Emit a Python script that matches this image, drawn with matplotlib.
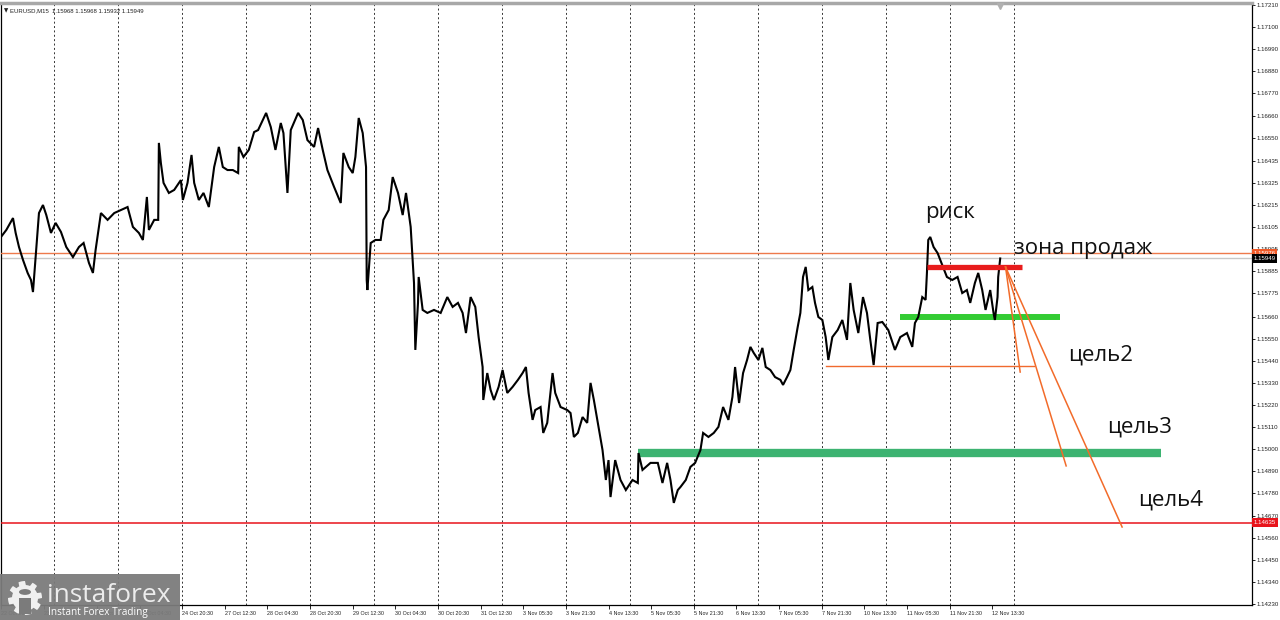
import matplotlib
matplotlib.use('Agg')
import numpy as np
import matplotlib.pyplot as plt
from matplotlib.patches import Rectangle, Polygon, Circle

# ---------------- data (EURUSD M15, bar index, price) ----------------
bars = [0, 8, 18, 22, 27, 33, 40, 45, 48, 52, 57, 63, 68, 75, 82, 90, 98, 108, 117, 124,
        132, 138, 142, 150, 160, 170, 180, 190, 198, 207, 213, 219, 222, 230, 236, 237, 240, 244, 252, 260,
        270, 273, 280, 286, 290, 297, 304, 312, 320, 327, 333, 340, 348, 356, 357, 364, 372, 380, 386, 393,
        398, 405, 412, 420, 424, 430, 435, 446, 453, 460, 470, 476, 483, 490, 500, 510, 514, 522, 528, 532,
        537, 543, 548, 549, 550, 555, 562, 570, 574, 582, 588, 596, 603, 608, 615, 620, 622, 626, 627, 633,
        640, 650, 660, 670, 678, 686, 693, 698, 705, 712, 717, 723, 724, 730, 735, 740, 747, 753, 760, 768,
        776, 783, 788, 792, 798, 802, 810, 814, 820, 828, 832, 840, 850, 855, 860, 866, 873, 880, 885, 890,
        896, 903, 908, 912, 915, 922, 930, 938, 948, 956, 957, 963, 975, 986, 993, 1000, 1005, 1010, 1016, 1020,
        1028, 1035, 1042, 1050, 1054, 1062, 1070, 1077, 1084, 1092, 1098, 1102, 1108, 1114, 1120, 1125, 1130, 1137, 1143, 1148,
        1155, 1162, 1170, 1174, 1180, 1185, 1190, 1196, 1200, 1204, 1208, 1212, 1218, 1222, 1227, 1233, 1238, 1242, 1248, 1256,
        1263, 1270, 1275, 1280, 1287, 1294, 1300, 1305, 1310, 1316, 1323, 1332, 1342, 1350, 1360, 1368, 1372, 1377, 1383, 1388,
        1390, 1392, 1395, 1400, 1406, 1410, 1414, 1420, 1428, 1436, 1443, 1450, 1455, 1462, 1467, 1473, 1478, 1485, 1490, 1492,
        1496, 1497, 1500]
close = [1.16056, 1.16091, 1.16150, 1.16076, 1.16006, 1.15942, 1.15877, 1.15842, 1.15782, 1.15956,
         1.16175, 1.16215, 1.16165, 1.16076, 1.16126, 1.16081, 1.16006, 1.15956, 1.16006, 1.16026,
         1.15927, 1.15877, 1.15991, 1.16175, 1.16141, 1.16175, 1.16190, 1.16205, 1.16106, 1.16076,
         1.16041, 1.16255, 1.16091, 1.16141, 1.16141, 1.16524, 1.16424, 1.16325, 1.16275, 1.16290,
         1.16339, 1.16240, 1.16325, 1.16464, 1.16325, 1.16240, 1.16275, 1.16205, 1.16404, 1.16504,
         1.16404, 1.16389, 1.16389, 1.16374, 1.16504, 1.16454, 1.16489, 1.16578, 1.16588, 1.16638,
         1.16673, 1.16603, 1.16489, 1.16623, 1.16573, 1.16275, 1.16588, 1.16673, 1.16638, 1.16538,
         1.16504, 1.16598, 1.16489, 1.16389, 1.16305, 1.16225, 1.16474, 1.16404, 1.16374, 1.16454,
         1.16648, 1.16573, 1.16404, 1.15842, 1.15792, 1.16026, 1.16041, 1.16041, 1.16141, 1.16190,
         1.16354, 1.16275, 1.16165, 1.16275, 1.16106, 1.15827, 1.15494, 1.15728, 1.15857, 1.15693,
         1.15678, 1.15693, 1.15678, 1.15757, 1.15708, 1.15728, 1.15678, 1.15578, 1.15757, 1.15708,
         1.15558, 1.15409, 1.15245, 1.15379, 1.15295, 1.15245, 1.15310, 1.15394, 1.15280, 1.15310,
         1.15345, 1.15379, 1.15409, 1.15280, 1.15146, 1.15195, 1.15210, 1.15081, 1.15131, 1.15379,
         1.15280, 1.15210, 1.15195, 1.15180, 1.15061, 1.15081, 1.15160, 1.15131, 1.15330, 1.15245,
         1.15131, 1.14996, 1.14847, 1.14946, 1.14762, 1.14946, 1.14847, 1.14797, 1.14847, 1.14832,
         1.14981, 1.14897, 1.14932, 1.14932, 1.14832, 1.14932, 1.14847, 1.14733, 1.14797, 1.14812,
         1.14847, 1.14912, 1.14932, 1.14996, 1.15081, 1.15061, 1.15081, 1.15111, 1.15210, 1.15146,
         1.15260, 1.15409, 1.15230, 1.15379, 1.15444, 1.15509, 1.15479, 1.15444, 1.15504, 1.15409,
         1.15394, 1.15359, 1.15345, 1.15320, 1.15359, 1.15394, 1.15494, 1.15608, 1.15678, 1.15857,
         1.15907, 1.15792, 1.15807, 1.15728, 1.15658, 1.15643, 1.15558, 1.15444, 1.15558, 1.15593,
         1.15643, 1.15544, 1.15827, 1.15693, 1.15578, 1.15757, 1.15678, 1.15544, 1.15419, 1.15628,
         1.15633, 1.15593, 1.15494, 1.15558, 1.15578, 1.15509, 1.15628, 1.15658, 1.15757, 1.15743,
         1.15877, 1.16041, 1.16056, 1.16006, 1.15976, 1.15942, 1.15907, 1.15857, 1.15842, 1.15857,
         1.15777, 1.15792, 1.15728, 1.15827, 1.15877, 1.15792, 1.15693, 1.15792, 1.15678, 1.15643,
         1.15757, 1.15857, 1.15949]

ytick_vals = [1.17210, 1.17100, 1.16990, 1.16880, 1.16770, 1.16660, 1.16550, 1.16435, 1.16325,
              1.16215, 1.16105, 1.15995, 1.15885, 1.15775, 1.15660, 1.15550, 1.15440, 1.15330,
              1.15220, 1.15110, 1.15000, 1.14890, 1.14780, 1.14670, 1.14560, 1.14450, 1.14340, 1.14230]
xtick_bars = [0, 64, 144, 208, 272, 336, 400, 464, 528, 592, 656, 720, 784, 848, 912, 976,
              1040, 1104, 1168, 1232, 1296, 1360, 1424, 1488]
xtick_labels = ['22 Oct 2025', '23 Oct 04:30', '23 Oct 12:30', '24 Oct 04:30', '24 Oct 20:30',
                '27 Oct 12:30', '28 Oct 04:30', '28 Oct 20:30', '29 Oct 12:30', '30 Oct 04:30',
                '30 Oct 20:30', '31 Oct 12:30', '3 Nov 05:30', '3 Nov 21:30', '4 Nov 13:30',
                '5 Nov 05:30', '5 Nov 21:30', '6 Nov 13:30', '7 Nov 05:30', '7 Nov 21:30',
                '10 Nov 13:30', '11 Nov 05:30', '11 Nov 21:30', '12 Nov 13:30']
grid_bars = [80, 176, 272, 368, 464, 560, 656, 752, 848, 944, 1040, 1136, 1232, 1328, 1424, 1520]

bid_price = 1.15949
ask_line_price = 1.15976
support_price = 1.14635
ohlc_header = 'EURUSD,M15  1.15968 1.15968 1.15932 1.15949'

# analysis levels: (start bar, end bar, price)
sell_zone = (1390, 1532, 1.15907)
target1 = (1350, 1590, 1.15658)
target2 = (1239, 1551, 1.15414)
target3 = (956, 1742, 1.14981)
fan_origin = (1508, 1.15907)
fan_ends = [(1530, 1.15384), (1599, 1.14917), (1683, 1.14613)]

labels_text = ['риск', 'зона продаж', 'цель2', 'цель3', 'цель4']

# ---------------- figure ----------------
W, H = 1280, 620
fig = plt.figure(figsize=(W / 100, H / 100), dpi=100)
ax = fig.add_axes([1 / W, 15 / H, 1251 / W, 602 / H])
ax.set_xlim(0, 1878)
ax.set_ylim(1.14225, 1.17220)

small = ['Liberation Sans', 'DejaVu Sans']

# grid (vertical dotted)
for g in grid_bars:
    ax.axvline(g, color='#333333', lw=0.7, ls=(0, (2, 2.5)), zorder=1)

# price series
ax.plot(bars, close, color='black', lw=1.5, zorder=4, solid_joinstyle='miter')

# horizontal full-width lines
ax.axhline(ask_line_price, color='#ee7a4c', lw=1.0, zorder=3)
ax.axhline(bid_price, color='#c8c8c8', lw=1.0, zorder=2)
ax.axhline(support_price, color='#e8141b', lw=1.1, zorder=3)

# analysis drawings
ax.plot([target3[0], target3[1]], [target3[2], target3[2]], color='#3cb371', lw=6.0,
        solid_capstyle='butt', zorder=3)
ax.plot([target2[0], target2[1]], [target2[2], target2[2]], color='#f06a2e', lw=1.0, zorder=3)
ax.plot([target1[0], target1[1]], [target1[2], target1[2]], color='#33cc33', lw=4.3,
        solid_capstyle='butt', zorder=3)
ax.plot([sell_zone[0], sell_zone[1]], [sell_zone[2], sell_zone[2]], color='#e81c1c', lw=3.8,
        solid_capstyle='butt', zorder=5)
for (xe, ye) in fan_ends:
    ax.plot([fan_origin[0], xe], [fan_origin[1], ye], color='#f26b2a', lw=1.1, zorder=5)

tfont = ['Open Sans', 'DejaVu Sans']
ax.text(1425, 1.16180, labels_text[0], fontsize=16, family=tfont, ha='center', va='center', color='#111111')
ax.text(1521, 1.16001, labels_text[1], fontsize=16, family=tfont, ha='left', va='center', color='#111111')
ax.text(1602, 1.15469, labels_text[2], fontsize=16, family=tfont, ha='left', va='center', color='#111111')
ax.text(1660, 1.15111, labels_text[3], fontsize=16, family=tfont, ha='left', va='center', color='#111111')
ax.text(1707, 1.14748, labels_text[4], fontsize=16, family=tfont, ha='left', va='center', color='#111111')

# header
ax.text(0.002, 0.991, '\u25BC', transform=ax.transAxes, fontsize=4.0,
        family=['DejaVu Sans'], ha='left', va='top', color='#222222', zorder=6)
ax.text(0.0075, 0.992, ohlc_header, transform=ax.transAxes, fontsize=4.3,
        family=small, ha='left', va='top', color='#222222', zorder=6)
# shift marker
ax.plot([1500], [1.17205], marker='v', color='#b0b0b0', ms=5, zorder=6)

# axes styling
for s in ['left', 'bottom', 'right']:
    ax.spines[s].set_color('#000000')
    ax.spines[s].set_linewidth(0.9)
ax.spines['top'].set_color('#a8a8a8')
ax.spines['top'].set_linewidth(2.5)
ax.yaxis.tick_right()
ax.set_yticks(ytick_vals)
ax.set_yticklabels(['%.5f' % v for v in ytick_vals])
ax.tick_params(axis='y', which='both', direction='out', length=2, width=0.6, pad=1.2,
               labelsize=4.4, colors='#000000', labelcolor='#222222')
for lab in ax.get_yticklabels():
    lab.set_family(small)
ax.set_xticks(xtick_bars)
ax.set_xticklabels(xtick_labels)
for lab in ax.get_xticklabels():
    lab.set_horizontalalignment('left')
    lab.set_family(small)
ax.tick_params(axis='x', direction='out', length=3, width=0.6, pad=1.0, labelsize=3.9,
               labelcolor='#222222')

# price tag boxes on right axis
ytr = ax.get_yaxis_transform()
for price, fc, txt in [(ask_line_price, '#f05a28', '%.5f' % ask_line_price),
                       (bid_price, '#000000', '%.5f' % bid_price),
                       (support_price, '#e8141b', '%.5f' % support_price)]:
    ax.text(1.0012, price, txt, transform=ytr, fontsize=4.4, family=small, color='white', ha='left',
            va='center', zorder=10, clip_on=False,
            bbox=dict(boxstyle='square,pad=0.3', fc=fc, ec='none'))

# instaforex logo (overlay, bottom-left)
fig.add_artist(Rectangle((0, 0), 180 / W, 46 / H, transform=fig.transFigure,
                         facecolor='#7b7b7b', edgecolor='none', alpha=0.95, zorder=20))
ang = np.linspace(0, 2 * np.pi, 97)
rad = np.where((np.floor(ang / (2 * np.pi / 16)) % 2) == 0, 17, 13)
pts = np.column_stack([(25 + rad * np.cos(ang)) / W, (22 + rad * np.sin(ang)) / H])
fig.add_artist(Polygon(pts, closed=True, transform=fig.transFigure, facecolor='#f0f0f0',
                       edgecolor='none', zorder=21))
fig.add_artist(Rectangle((19 / W, 6 / H), 12 / W, 16 / H, transform=fig.transFigure,
                         facecolor='#7b7b7b', edgecolor='none', zorder=22))
fig.add_artist(Circle((25 / W, 28 / H), 6 / W, transform=fig.transFigure, facecolor='#7b7b7b',
                      edgecolor='none', zorder=22))
fig.text(47 / W, 25 / H, 'instaforex', fontsize=19, family=['Open Sans', 'DejaVu Sans'],
         color='#ececec', ha='left', va='center', zorder=23)
fig.text(48 / W, 7 / H, 'Instant Forex Trading', fontsize=7.2, family=['Open Sans', 'DejaVu Sans'],
         color='#ffffff', ha='left', va='center', zorder=23)

fig.savefig('out.png', dpi=100, facecolor='white')
